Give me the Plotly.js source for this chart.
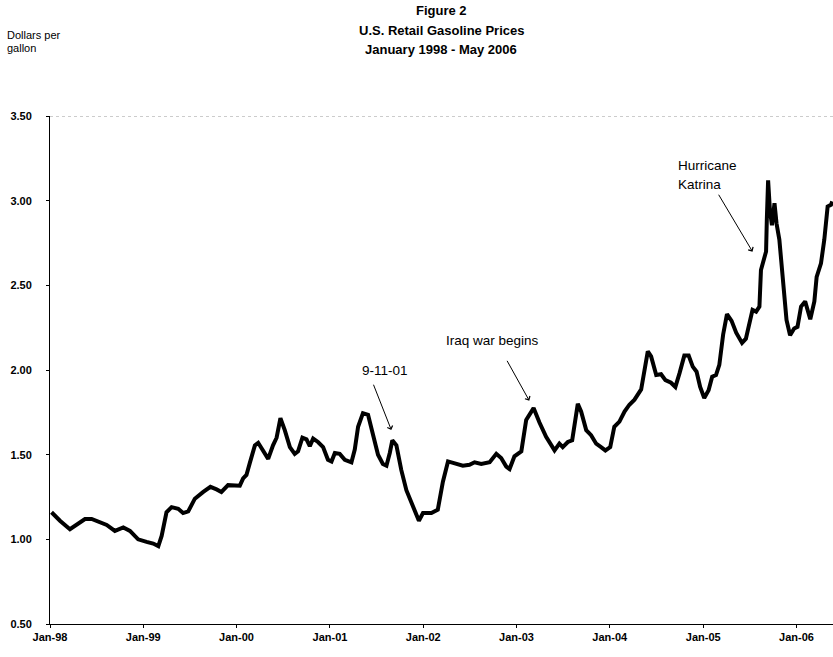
<!DOCTYPE html>
<html>
<head>
<meta charset="utf-8">
<script src="https://cdn.plot.ly/plotly-3.0.1.min.js"></script>
<style>html,body{margin:0;padding:0;background:#fff;}</style>
</head>
<body>
<div id="chart" style="width:833px;height:657px;"></div>
<script>
// Weekly U.S. retail gasoline price readings (dollars per gallon)
const weekDates = [
'1998-01-07','1998-02-09','1998-03-20','1998-04-09','1998-05-18','1998-06-13','1998-07-16','1998-08-11','1998-09-12','1998-10-15','1998-11-10','1998-12-12',
'1999-01-14','1999-02-09','1999-03-01','1999-03-14','1999-04-02','1999-04-22','1999-05-18','1999-06-06','1999-06-26','1999-07-22','1999-08-24','1999-09-21','1999-10-15','1999-11-03','1999-11-29',
'2000-01-14','2000-01-27','2000-02-09','2000-02-22','2000-03-13','2000-03-26','2000-04-14','2000-05-04','2000-05-23','2000-06-06','2000-06-21','2000-07-08','2000-07-28','2000-08-16','2000-08-29','2000-09-15','2000-10-01','2000-10-14','2000-10-27','2000-11-15','2000-12-05','2000-12-24',
'2001-01-07','2001-01-20','2001-02-08','2001-02-28','2001-03-26','2001-04-08','2001-04-21','2001-05-10','2001-05-30','2001-06-18','2001-07-08','2001-07-27','2001-08-10','2001-08-23','2001-09-02','2001-09-18','2001-10-07','2001-10-27','2001-11-15','2001-11-28','2001-12-15','2001-12-31',
'2002-02-02','2002-02-27','2002-03-19','2002-04-08','2002-05-04','2002-06-05','2002-07-01','2002-07-21','2002-08-16','2002-09-18','2002-10-14','2002-11-02','2002-11-22','2002-12-05','2002-12-24',
'2003-01-20','2003-02-08','2003-03-09','2003-04-01','2003-04-27','2003-05-30','2003-06-18','2003-07-01','2003-07-21','2003-08-07','2003-08-20','2003-08-29','2003-09-11','2003-10-01','2003-10-20','2003-11-09','2003-11-28','2003-12-15',
'2004-01-03','2004-01-19','2004-02-08','2004-02-28','2004-03-18','2004-04-07','2004-05-03','2004-05-16','2004-05-29','2004-06-11','2004-07-01','2004-07-20','2004-08-06','2004-08-28','2004-09-14','2004-09-30','2004-10-19','2004-11-05','2004-11-21','2004-12-06','2004-12-20',
'2005-01-05','2005-01-22','2005-02-05','2005-02-20','2005-03-05','2005-03-20','2005-04-04','2005-04-22','2005-05-10','2005-06-02','2005-06-17','2005-06-30','2005-07-13','2005-07-27','2005-08-09','2005-08-15','2005-08-28','2005-09-04','2005-09-07','2005-09-12','2005-09-19','2005-09-27','2005-10-07','2005-10-15','2005-10-26','2005-11-08','2005-11-23','2005-12-07','2005-12-23',
'2006-01-05','2006-01-19','2006-02-04','2006-02-13','2006-02-24','2006-03-12','2006-03-21','2006-04-07','2006-04-20','2006-05-03','2006-05-16','2006-05-21'
];
const retailPrice = [
1.16,1.11,1.06,1.08,1.12,1.12,1.10,1.085,1.05,1.07,1.05,1.00,
0.985,0.975,0.96,1.02,1.16,1.19,1.18,1.155,1.165,1.24,1.28,1.31,1.295,1.28,1.32,
1.317,1.36,1.38,1.45,1.555,1.57,1.52,1.475,1.555,1.60,1.715,1.645,1.545,1.505,1.52,1.60,1.59,1.55,1.595,1.575,1.545,1.47,
1.46,1.51,1.505,1.47,1.455,1.53,1.665,1.745,1.735,1.625,1.50,1.445,1.435,1.51,1.585,1.555,1.41,1.29,1.22,1.165,1.11,1.155,
1.155,1.175,1.34,1.46,1.45,1.435,1.44,1.455,1.445,1.455,1.505,1.48,1.43,1.415,1.49,
1.52,1.705,1.775,1.69,1.605,1.525,1.565,1.545,1.575,1.585,1.725,1.80,1.755,1.645,1.615,1.565,1.545,1.525,
1.545,1.665,1.695,1.755,1.795,1.825,1.885,2.00,2.11,2.08,1.97,1.975,1.94,1.925,1.90,1.98,2.085,2.085,2.02,1.99,1.90,
1.835,1.88,1.96,1.97,2.03,2.21,2.33,2.29,2.22,2.16,2.185,2.275,2.355,2.345,2.375,2.59,2.66,2.70,2.89,3.12,2.945,2.855,2.985,2.865,2.77,2.53,2.295,2.205,2.245,
2.255,2.375,2.405,2.365,2.30,2.405,2.55,2.63,2.77,2.965,2.975,2.995
];
const xTickDates = ['1998-01-01','1999-01-01','2000-01-01','2001-01-01','2002-01-01','2003-01-01','2004-01-01','2005-01-01','2006-01-01'];
const xTickLabels = ['Jan-98','Jan-99','Jan-00','Jan-01','Jan-02','Jan-03','Jan-04','Jan-05','Jan-06'];
const yTickValues = [0.5,1.0,1.5,2.0,2.5,3.0,3.5];
const yTickLabels = ['0.50','1.00','1.50','2.00','2.50','3.00','3.50'];

const FONT = '"Liberation Sans", Arial, Helvetica, sans-serif';

const trace = {
  x: weekDates, y: retailPrice, type: 'scatter', mode: 'lines',
  line: {color: '#000', width: 4}, hoverinfo: 'skip'
};

function txt(text, x, y, xanchor, yanchor, size, bold, align) {
  return {text: bold ? '<b>' + text + '</b>' : text,
    xref: 'paper', yref: 'paper', x: x, y: y, xanchor: xanchor, yanchor: yanchor,
    showarrow: false, align: align || 'center', font: {family: FONT, size: size, color: '#000'}};
}
function arrow(x, y, ax, ay) {
  return {text: '', x: x, y: y, xref: 'x', yref: 'y', ax: ax, ay: ay, axref: 'x', ayref: 'y',
    showarrow: true, arrowhead: 4, arrowsize: 1.1, arrowwidth: 1, arrowcolor: '#000', standoff: 0, startstandoff: 0};
}
// pixel helpers for text placement relative to the plot area (l=50, top=116, bottom=624)
function px(x) { return (x - 50) / 783; }
function py(y) { return (624 - y) / 508; }

const layout = {
  width: 833, height: 657,
  margin: {l: 50, r: 0, t: 116, b: 33, pad: 0},
  paper_bgcolor: '#fff', plot_bgcolor: '#fff',
  showlegend: false,
  font: {family: FONT, color: '#000'},
  xaxis: {
    type: 'date', range: ['1998-01-01', '2006-05-24'],
    tickvals: xTickDates, ticktext: xTickLabels.map(function(s){return '<b>' + s + '</b>';}),
    tickfont: {family: FONT, size: 11, color: '#000'},
    showgrid: false, zeroline: false, showline: true, linecolor: '#000', linewidth: 1,
    ticks: 'outside', ticklen: 3, tickcolor: '#000', fixedrange: true
  },
  yaxis: {
    range: [0.5, 3.5],
    tickvals: yTickValues, ticktext: yTickLabels.map(function(s){return '<b>' + s + '</b>';}),
    tickfont: {family: FONT, size: 11, color: '#000'},
    showgrid: false, zeroline: false, showline: true, linecolor: '#000', linewidth: 1,
    ticks: 'outside', ticklen: 3, tickcolor: '#000', ticklabelstandoff: 12, fixedrange: true
  },
  shapes: [
    {type: 'line', xref: 'paper', x0: 0, x1: 1, yref: 'y', y0: 3.5, y1: 3.5,
     line: {color: '#9a9a9a', width: 1, dash: 'dot'}}
  ],
  annotations: [
    txt('Figure 2', px(441), py(11), 'center', 'middle', 13, true),
    txt('U.S. Retail Gasoline Prices', px(441), py(30), 'center', 'middle', 13, true),
    txt('January 1998 - May 2006', px(441), py(49), 'center', 'middle', 13, true),
    txt('Dollars per', px(5), py(35), 'left', 'middle', 11, false, 'left'),
    txt('gallon', px(5), py(48), 'left', 'middle', 11, false, 'left'),
    txt('9-11-01', px(385), py(370), 'center', 'middle', 13.5, false),
    txt('Iraq war begins', px(493), py(340), 'center', 'middle', 13.5, false),
    txt('Hurricane', px(676), py(165), 'left', 'middle', 13.5, false, 'left'),
    txt('Katrina', px(676), py(184), 'left', 'middle', 13.5, false, 'left'),
    arrow('2001-08-29', 1.646, '2001-06-18', 1.922),
    arrow('2003-02-20', 1.819, '2002-11-22', 2.063),
    arrow('2005-07-13', 2.699, '2005-02-27', 3.044)
  ]
};

Plotly.newPlot('chart', [trace], layout, {displayModeBar: false, staticPlot: true});
</script>
</body>
</html>
